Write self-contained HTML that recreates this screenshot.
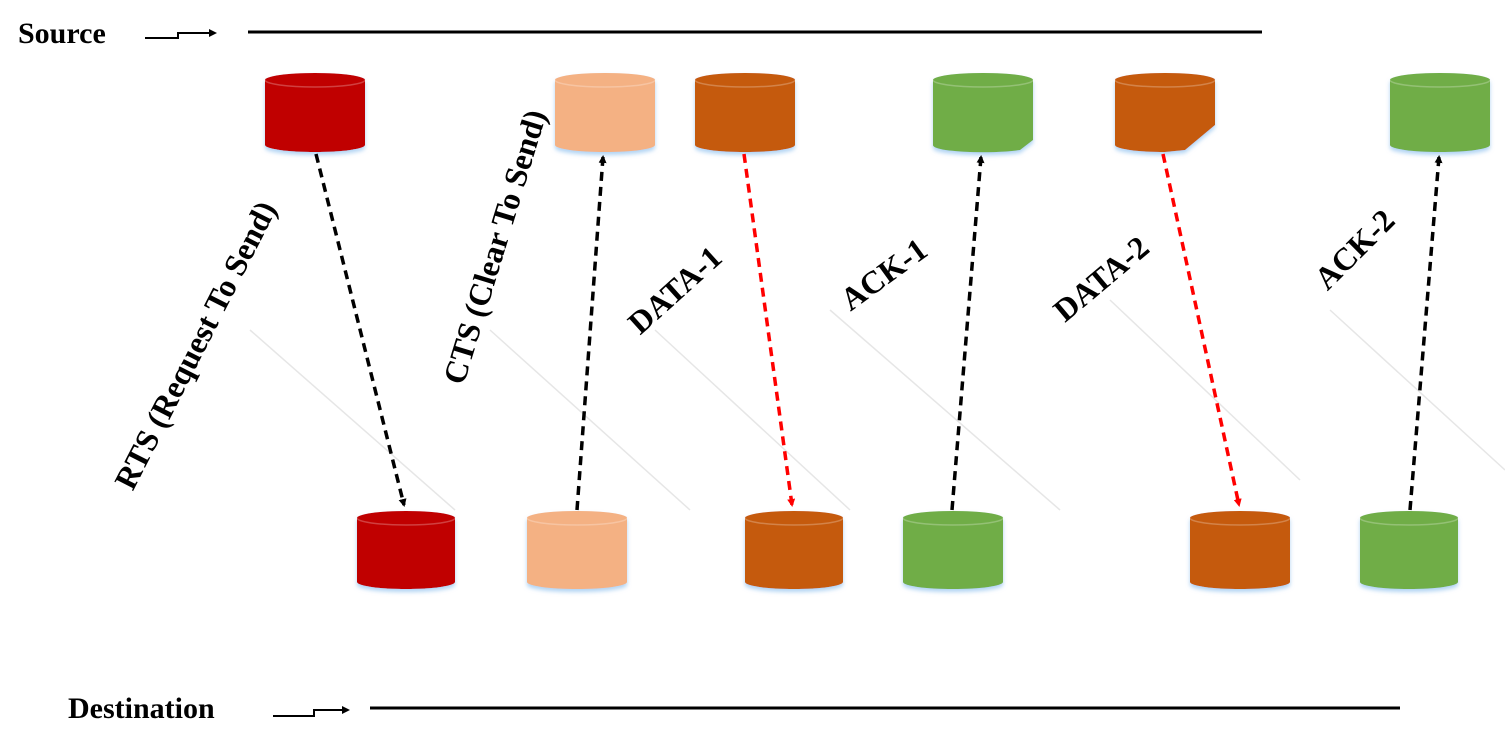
<!DOCTYPE html>
<html><head><meta charset="utf-8"><style>
html,body{margin:0;padding:0;background:#fff;}
svg{display:block;}
text{font-family:"Liberation Serif",serif;font-weight:bold;fill:#000;}
</style></head><body>
<svg width="1505" height="738" viewBox="0 0 1505 738" xmlns="http://www.w3.org/2000/svg">
<defs>
<marker id="ab" markerWidth="8" markerHeight="8" refX="6" refY="4" orient="auto" markerUnits="userSpaceOnUse"><path d="M0,0 L8,4 L0,8 z" fill="#000"/></marker>
<marker id="ar" markerWidth="8" markerHeight="8" refX="6" refY="4" orient="auto" markerUnits="userSpaceOnUse"><path d="M0,0 L8,4 L0,8 z" fill="#f00"/></marker>
<filter id="sh" x="-10%" y="-10%" width="120%" height="130%"><feDropShadow dx="0" dy="3" stdDeviation="2" flood-color="#9cc8f0" flood-opacity="0.8"/></filter>
</defs>
<!-- faint lines -->
<g stroke="#e6e6e6" stroke-width="1.5">
<line x1="250" y1="330" x2="455" y2="510"/><line x1="490" y1="330" x2="690" y2="510"/>
<line x1="655" y1="330" x2="850" y2="510"/><line x1="830" y1="310" x2="1060" y2="510"/>
<line x1="1110" y1="300" x2="1300" y2="480"/><line x1="1330" y1="310" x2="1505" y2="470"/>
</g>
<!-- source/destination -->
<text x="18" y="43" font-size="30">Source</text>
<path d="M145,38 H178 V33 H215" fill="none" stroke="#000" stroke-width="2" marker-end="url(#ab)"/>
<line x1="248" y1="32" x2="1262" y2="32" stroke="#000" stroke-width="3"/>
<text x="68" y="718" font-size="30">Destination</text>
<path d="M273,716 H314 V710 H348" fill="none" stroke="#000" stroke-width="2" marker-end="url(#ab)"/>
<line x1="370" y1="708" x2="1400" y2="708" stroke="#000" stroke-width="3"/>
<!-- cylinders -->
<g filter="url(#sh)">
<g id="cyls">
<path d="M265,80 A50,7 0 0 1 365,80 V145 A50,7 0 0 1 265,145 Z" fill="#c00000"/>
<path d="M555,80 A50,7 0 0 1 655,80 V145 A50,7 0 0 1 555,145 Z" fill="#f4b183"/>
<path d="M695,80 A50,7 0 0 1 795,80 V145 A50,7 0 0 1 695,145 Z" fill="#c55a11"/>
<path d="M933,80 A50,7 0 0 1 1033,80 V140 L1020,150 A50,7 0 0 1 933,145 Z" fill="#70ad47"/>
<path d="M1115,80 A50,7 0 0 1 1215,80 V125 L1185,150 L1165,152 A50,7 0 0 1 1115,145 Z" fill="#c55a11"/>
<path d="M1390,80 A50,7 0 0 1 1490,80 V145 A50,7 0 0 1 1390,145 Z" fill="#70ad47"/>
<path d="M357,518 A49,7 0 0 1 455,518 V582 A49,7 0 0 1 357,582 Z" fill="#c00000"/>
<path d="M527,518 A50,7 0 0 1 627,518 V582 A50,7 0 0 1 527,582 Z" fill="#f4b183"/>
<path d="M745,518 A49,7 0 0 1 843,518 V582 A49,7 0 0 1 745,582 Z" fill="#c55a11"/>
<path d="M903,518 A50,7 0 0 1 1003,518 V582 A50,7 0 0 1 903,582 Z" fill="#70ad47"/>
<path d="M1190,518 A50,7 0 0 1 1290,518 V582 A50,7 0 0 1 1190,582 Z" fill="#c55a11"/>
<path d="M1360,518 A49,7 0 0 1 1458,518 V582 A49,7 0 0 1 1360,582 Z" fill="#70ad47"/>
</g></g>
<g fill="none" stroke="#ffffff" stroke-opacity="0.25" stroke-width="1.5">
<path d="M265,80 A50,7 0 0 0 365,80"/><path d="M555,80 A50,7 0 0 0 655,80"/><path d="M695,80 A50,7 0 0 0 795,80"/>
<path d="M933,80 A50,7 0 0 0 1033,80"/><path d="M1115,80 A50,7 0 0 0 1215,80"/><path d="M1390,80 A50,7 0 0 0 1490,80"/>
<path d="M357,518 A49,7 0 0 0 455,518"/><path d="M527,518 A50,7 0 0 0 627,518"/><path d="M745,518 A49,7 0 0 0 843,518"/>
<path d="M903,518 A50,7 0 0 0 1003,518"/><path d="M1190,518 A50,7 0 0 0 1290,518"/><path d="M1360,518 A49,7 0 0 0 1458,518"/>
</g>
<!-- arrows -->
<g stroke-width="3.5" stroke-dasharray="9,6" fill="none">
<line x1="316" y1="154" x2="404" y2="505" stroke="#000" marker-end="url(#ab)"/>
<line x1="577" y1="510" x2="603" y2="157" stroke="#000" marker-end="url(#ab)"/>
<line x1="744" y1="154" x2="792" y2="505" stroke="#f00" marker-end="url(#ar)"/>
<line x1="952" y1="510" x2="981" y2="157" stroke="#000" marker-end="url(#ab)"/>
<line x1="1163" y1="154" x2="1239" y2="505" stroke="#f00" marker-end="url(#ar)"/>
<line x1="1410" y1="510" x2="1439" y2="157" stroke="#000" marker-end="url(#ab)"/>
</g>
<!-- labels -->
<text font-size="32" text-anchor="middle" transform="translate(205,350) rotate(-63)">RTS (Request To Send)</text>
<text font-size="32" text-anchor="middle" transform="translate(505,250) rotate(-73)">CTS (Clear To Send)</text>
<text font-size="32" text-anchor="middle" transform="translate(682,298) rotate(-42)">DATA-1</text>
<text font-size="32" text-anchor="middle" transform="translate(890,283) rotate(-36)">ACK-1</text>
<text font-size="32" text-anchor="middle" transform="translate(1108,287) rotate(-40)">DATA-2</text>
<text font-size="32" text-anchor="middle" transform="translate(1362,257) rotate(-45)">ACK-2</text>
</svg>
</body></html>
